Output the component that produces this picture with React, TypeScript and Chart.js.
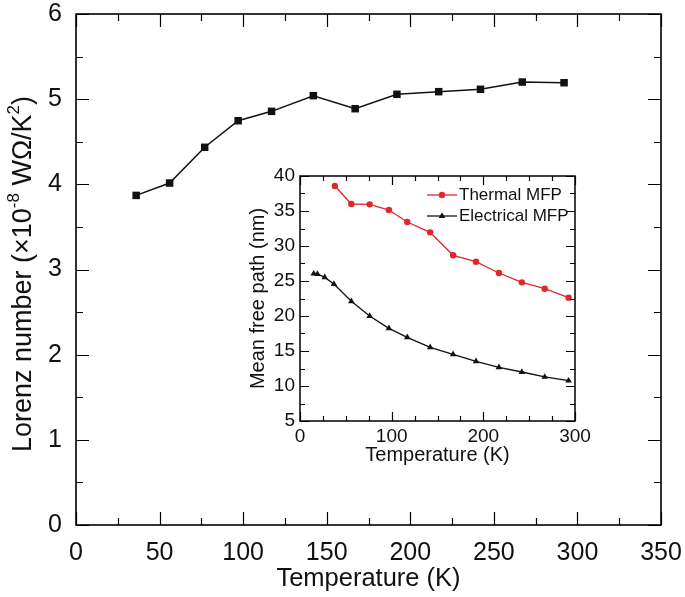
import React, { useEffect, useRef } from 'react';
import { Chart, registerables } from 'chart.js';
Chart.register(...registerables);

// Main plot: Lorenz number vs temperature
const mainTemps = [36, 56, 77, 97, 117, 142, 167, 192, 217, 242, 267, 292];
const lorenz = [3.87, 4.015, 4.435, 4.747, 4.857, 5.041, 4.888, 5.057, 5.088, 5.116, 5.201, 5.193];

// Inset: mean free paths
const thermalTemps = [38, 56, 76, 97, 117, 142, 167, 192, 217, 242, 267, 293];
const thermalMfp = [38.57, 36.0, 35.95, 35.14, 33.43, 31.95, 28.67, 27.76, 26.14, 24.81, 23.9, 22.62];
const electricalTemps = [15, 19, 27, 37, 56, 76, 97, 117, 142, 167, 192, 217, 242, 267, 293];
const electricalMfp = [26.05, 26.0, 25.52, 24.57, 22.1, 20.0, 18.24, 16.95, 15.52, 14.52, 13.52, 12.67, 12.0, 11.29, 10.76];

const seriesNames = ['Thermal MFP', 'Electrical MFP'];
const mainXTitle = 'Temperature (K)';
// y title parts: [text, isSuperscript]
const mainYTitleParts: [string, boolean][] = [
  ['Lorenz number (×10', false],
  ['-8', true],
  [' WΩ/K', false],
  ['2', true],
  [')', false],
];
const insetXTitle = 'Temperature (K)';
const insetYTitle = 'Mean free path (nm)';

const FONT = "'Liberation Sans', Arial, sans-serif";
const RED = '#e3262b';

function pts(xs: number[], ys: number[]) {
  return xs.map((x, i) => ({ x, y: ys[i] }));
}

function zeroPad(s: any) {
  s.paddingTop = 0;
  s.paddingBottom = 0;
  s.paddingLeft = 0;
  s.paddingRight = 0;
}

function framePlugin(id: string, xMinor: number, yMinor: number, majorLen: number, minorLen: number, lw: number) {
  return {
    id,
    afterDraw(chart: any) {
      const { ctx, chartArea: a, scales } = chart;
      const x = scales.x;
      const y = scales.y;
      ctx.save();
      ctx.strokeStyle = '#000';
      ctx.lineWidth = 1.2;
      ctx.beginPath();
      const xStep = x.options.ticks.stepSize;
      for (let v = x.min; v <= x.max + 1e-9; v += xMinor) {
        const isMajor = Math.abs(v / xStep - Math.round(v / xStep)) < 1e-6;
        const len = isMajor ? majorLen : minorLen;
        const px = Math.round(x.getPixelForValue(v)) + 0.5;
        ctx.moveTo(px, a.bottom);
        ctx.lineTo(px, a.bottom - len);
        ctx.moveTo(px, a.top);
        ctx.lineTo(px, a.top + len);
      }
      const yStep = y.options.ticks.stepSize;
      for (let v = y.min; v <= y.max + 1e-9; v += yMinor) {
        const isMajor = Math.abs(v / yStep - Math.round(v / yStep)) < 1e-6;
        const len = isMajor ? majorLen : minorLen;
        const py = Math.round(y.getPixelForValue(v)) + 0.5;
        ctx.moveTo(a.left, py);
        ctx.lineTo(a.left + len, py);
        ctx.moveTo(a.right, py);
        ctx.lineTo(a.right - len, py);
      }
      ctx.stroke();
      ctx.lineWidth = lw;
      ctx.strokeRect(a.left, a.top, a.right - a.left, a.bottom - a.top);
      ctx.restore();
    },
  };
}

const mainYTitlePlugin = {
  id: 'mainYTitle',
  afterDraw(chart: any) {
    const { ctx } = chart;
    const size = 27;
    const sup = 17;
    ctx.save();
    ctx.translate(31, 274);
    ctx.rotate(-Math.PI / 2);
    ctx.fillStyle = '#111';
    ctx.textBaseline = 'alphabetic';
    ctx.textAlign = 'left';
    let total = 0;
    for (const [t, s] of mainYTitleParts) {
      ctx.font = `${s ? sup : size}px ${FONT}`;
      total += ctx.measureText(t).width;
    }
    let cx = -total / 2;
    for (const [t, s] of mainYTitleParts) {
      ctx.font = `${s ? sup : size}px ${FONT}`;
      ctx.fillText(t, cx, s ? -12 : 0);
      cx += ctx.measureText(t).width;
    }
    ctx.restore();
  },
};

const insetLegendPlugin = {
  id: 'insetLegend',
  afterDraw(chart: any) {
    const { ctx, chartArea: a } = chart;
    ctx.save();
    chart.data.datasets.forEach((ds: any, i: number) => {
      const yy = a.top + 19 + i * 21;
      const x0 = a.right - 148;
      const x1 = x0 + 30;
      ctx.strokeStyle = ds.borderColor;
      ctx.lineWidth = 1.3;
      ctx.beginPath();
      ctx.moveTo(x0, yy);
      ctx.lineTo(x1, yy);
      ctx.stroke();
      const cx = (x0 + x1) / 2;
      ctx.fillStyle = ds.pointBackgroundColor;
      ctx.beginPath();
      const r = ds.pointRadius;
      if (ds.pointStyle === 'triangle') {
        for (let k = 0; k < 3; k++) {
          const ang = (k * 2 * Math.PI) / 3;
          const px = cx + Math.sin(ang) * r;
          const py = yy - Math.cos(ang) * r;
          if (k === 0) ctx.moveTo(px, py);
          else ctx.lineTo(px, py);
        }
        ctx.closePath();
      } else {
        ctx.arc(cx, yy, r, 0, Math.PI * 2);
      }
      ctx.fill();
      ctx.fillStyle = '#111';
      ctx.font = `17px ${FONT}`;
      ctx.textBaseline = 'middle';
      ctx.textAlign = 'left';
      ctx.fillText(ds.label, x1 + 2, yy);
    });
    ctx.restore();
  },
};

export default function App() {
  const mainRef = useRef<HTMLCanvasElement>(null);
  const insetRef = useRef<HTMLCanvasElement>(null);

  useEffect(() => {
    const mainChart = new Chart(mainRef.current as HTMLCanvasElement, {
      type: 'line',
      data: {
        datasets: [
          {
            label: 'Lorenz number',
            data: pts(mainTemps, lorenz),
            borderColor: '#111',
            backgroundColor: '#111',
            pointBackgroundColor: '#111',
            pointBorderColor: '#111',
            borderWidth: 1.5,
            pointStyle: 'rect',
            pointRadius: 5.3,
            pointBorderWidth: 0,
            tension: 0,
          },
        ],
      },
      options: {
        animation: false,
        responsive: false,
        events: [],
        layout: { padding: { top: 14, right: 24, left: 0, bottom: 0 } },
        plugins: { legend: { display: false }, tooltip: { enabled: false } },
        scales: {
          x: {
            type: 'linear',
            min: 0,
            max: 350,
            grid: { display: false, drawTicks: false },
            border: { display: false },
            ticks: {
              stepSize: 50,
              autoSkip: false,
              maxRotation: 0,
              padding: 13,
              color: '#111',
              font: { family: FONT, size: 25 },
            },
            title: {
              display: true,
              text: mainXTitle,
              color: '#111',
              font: { family: FONT, size: 25.5 },
              padding: { top: 0, bottom: 3 },
            },
            afterFit: (s: any) => {
              s.height = 72;
              zeroPad(s);
            },
          },
          y: {
            type: 'linear',
            min: 0,
            max: 6,
            grid: { display: false, drawTicks: false },
            border: { display: false },
            ticks: {
              stepSize: 1,
              padding: 14,
              color: '#111',
              font: { family: FONT, size: 25 },
            },
            title: { display: false },
            afterFit: (s: any) => {
              s.width = 76;
              zeroPad(s);
            },
          },
        },
      },
      plugins: [framePlugin('mainFrame', 25, 0.5, 13, 7, 1.6), mainYTitlePlugin],
    } as any);

    const insetChart = new Chart(insetRef.current as HTMLCanvasElement, {
      type: 'line',
      data: {
        datasets: [
          {
            label: seriesNames[0],
            data: pts(thermalTemps, thermalMfp),
            borderColor: RED,
            backgroundColor: RED,
            pointBackgroundColor: RED,
            pointBorderColor: RED,
            borderWidth: 1.3,
            pointStyle: 'circle',
            pointRadius: 3.2,
            pointBorderWidth: 0,
            tension: 0,
          },
          {
            label: seriesNames[1],
            data: pts(electricalTemps, electricalMfp),
            borderColor: '#111',
            backgroundColor: '#111',
            pointBackgroundColor: '#111',
            pointBorderColor: '#111',
            borderWidth: 1.3,
            pointStyle: 'triangle',
            pointRadius: 3.8,
            pointBorderWidth: 0,
            tension: 0,
          },
        ],
      },
      options: {
        animation: false,
        responsive: false,
        events: [],
        layout: { padding: { top: 16, right: 15, left: 0, bottom: 0 } },
        plugins: { legend: { display: false }, tooltip: { enabled: false } },
        scales: {
          x: {
            type: 'linear',
            min: 0,
            max: 300,
            grid: { display: false, drawTicks: false },
            border: { display: false },
            ticks: {
              stepSize: 100,
              autoSkip: false,
              maxRotation: 0,
              padding: 4,
              color: '#111',
              font: { family: FONT, size: 19 },
            },
            title: {
              display: true,
              text: insetXTitle,
              color: '#111',
              font: { family: FONT, size: 20 },
              padding: { top: 0, bottom: 3 },
            },
            afterFit: (s: any) => {
              s.height = 49;
              zeroPad(s);
            },
          },
          y: {
            type: 'linear',
            min: 5,
            max: 40,
            grid: { display: false, drawTicks: false },
            border: { display: false },
            ticks: {
              stepSize: 5,
              padding: 5,
              color: '#111',
              font: { family: FONT, size: 19 },
            },
            title: {
              display: true,
              text: insetYTitle,
              color: '#111',
              font: { family: FONT, size: 20 },
              padding: { top: 18, bottom: 0 },
            },
            afterFit: (s: any) => {
              s.width = 72;
              zeroPad(s);
            },
          },
        },
      },
      plugins: [framePlugin('insetFrame', 25, 2.5, 9, 5, 1.5), insetLegendPlugin],
    } as any);

    return () => {
      mainChart.destroy();
      insetChart.destroy();
    };
  }, []);

  return (
    <div style={{ position: 'fixed', left: 0, top: 0, width: 685, height: 597, background: '#fff' }}>
      <canvas ref={mainRef} width={685} height={597} style={{ position: 'absolute', left: 0, top: 0, width: 685, height: 597 }} />
      <canvas ref={insetRef} width={362} height={310} style={{ position: 'absolute', left: 228, top: 160, width: 362, height: 310 }} />
    </div>
  );
}
